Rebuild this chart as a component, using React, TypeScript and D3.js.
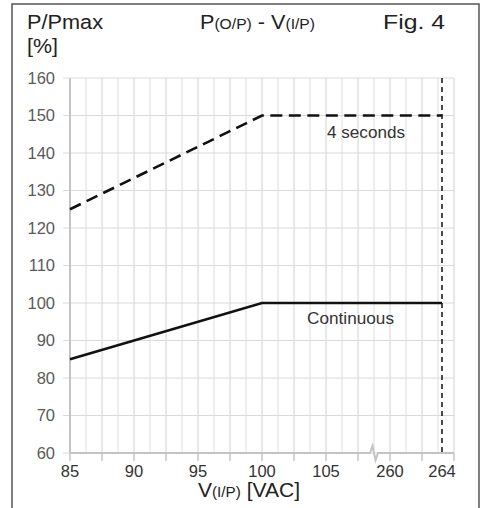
import React from "react";
import * as d3 from "d3";

const voltageTicks = [85, 90, 95, 100, 105, 260, 264];
const percentTicks = [60, 70, 80, 90, 100, 110, 120, 130, 140, 150, 160];
const continuousV = [85, 100, 264];
const continuousP = [85, 100, 100];
const peakV = [85, 100, 264];
const peakP = [125, 150, 150];
const limitV = 264;

const W = 482;
const H = 508;
const FONT = "'Liberation Sans', Arial, Helvetica, sans-serif";

export default function App() {
  const x = d3.scaleLinear().domain([85, 105, 260, 264]).range([70, 326, 390, 442]);
  const y = d3.scaleLinear().domain([60, 160]).range([453, 78]);
  const grid = d3.scaleLinear().domain([0, 24]).range([70, 454]);
  const gridIdx = d3.range(25);
  const tickIdx = d3.range(0, 25, 2);
  const line = d3
    .line<[number, number]>()
    .x((d) => x(d[0]))
    .y((d) => y(d[1]));
  const cont = continuousV.map((v, i) => [v, continuousP[i]] as [number, number]);
  const peak = peakV.map((v, i) => [v, peakP[i]] as [number, number]);
  const x0 = grid(0);
  const x1 = grid(24);
  const yb = y(60);
  const bx = grid(19);
  const axisPath = `M${x0},${yb}H${bx - 4}L${bx - 1.5},${yb - 7}L${bx + 1.5},${yb + 7}L${bx + 4},${yb}H${x1}`;
  const SG = "spacingAndGlyphs";

  return (
    <svg
      width={W}
      height={H}
      style={{ position: "absolute", left: 0, top: 0, background: "#fff" }}
      fontFamily={FONT}
    >
      <rect x={0} y={0} width={W} height={H} fill="#fff" />
      {/* frame */}
      <path d={`M12,${H}V4H479V${H}`} fill="none" stroke="#555" strokeWidth={1.5} />
      {/* vertical grid */}
      {gridIdx.map((i) => (
        <line
          key={"gv" + i}
          x1={grid(i)}
          x2={grid(i)}
          y1={y(160)}
          y2={yb}
          stroke={i % 2 === 0 ? "#d2d2d2" : "#dedede"}
          strokeWidth={1}
        />
      ))}
      {/* horizontal grid */}
      {percentTicks.map((p) => (
        <line key={"gh" + p} x1={63} x2={x1} y1={y(p)} y2={y(p)} stroke="#dadada" strokeWidth={1} />
      ))}
      {/* y axis */}
      <line x1={x0} x2={x0} y1={y(160)} y2={yb} stroke="#c4c4c4" strokeWidth={2} />
      {/* x ticks */}
      {tickIdx.map((i) => (
        <line key={"tx" + i} x1={grid(i)} x2={grid(i)} y1={yb} y2={yb + 8} stroke="#c4c4c4" strokeWidth={1.5} />
      ))}
      {/* x axis with break */}
      <path d={axisPath} fill="none" stroke="#c4c4c4" strokeWidth={2} />
      {/* y labels */}
      {percentTicks.map((p) => (
        <text key={"yl" + p} x={55} y={y(p) + 5.5} textAnchor="end" fontSize={16.5} fill="#5a5a5a">
          {p}
        </text>
      ))}
      {/* x labels */}
      {voltageTicks.map((v) => (
        <text key={"xl" + v} x={x(v)} y={477} textAnchor="middle" fontSize={16.5} fill="#333">
          {v}
        </text>
      ))}
      {/* limit line */}
      <line
        x1={x(limitV)}
        x2={x(limitV)}
        y1={y(160)}
        y2={yb}
        stroke="#111"
        strokeWidth={1.5}
        strokeDasharray="5,4"
      />
      {/* series */}
      <path d={line(peak) || ""} fill="none" stroke="#111" strokeWidth={2.6} strokeDasharray="12,6.5" />
      <path d={line(cont) || ""} fill="none" stroke="#111" strokeWidth={2.6} />
      <text x={327} y={138} fontSize={16.5} fill="#333" textLength={78} lengthAdjust={SG}>
        4 seconds
      </text>
      <text x={307} y={324} fontSize={16.5} fill="#333" textLength={87} lengthAdjust={SG}>
        Continuous
      </text>
      {/* titles */}
      <text x={27} y={29} fontSize={20} fill="#222" textLength={76} lengthAdjust={SG}>
        P/Pmax
      </text>
      <text x={27} y={53} fontSize={20} fill="#222" textLength={31} lengthAdjust={SG}>
        [%]
      </text>
      <text x={200} y={29} fontSize={20} fill="#222" textLength={115} lengthAdjust={SG}>
        P<tspan fontSize={14.5}>(O/P)</tspan> - V<tspan fontSize={14.5}>(I/P)</tspan>
      </text>
      <text x={383} y={29} fontSize={20} fill="#222" textLength={62} lengthAdjust={SG}>
        Fig. 4
      </text>
      <text x={198} y={497} fontSize={20} fill="#222" textLength={102} lengthAdjust={SG}>
        V<tspan fontSize={14.5}>(I/P)</tspan> [VAC]
      </text>
    </svg>
  );
}
